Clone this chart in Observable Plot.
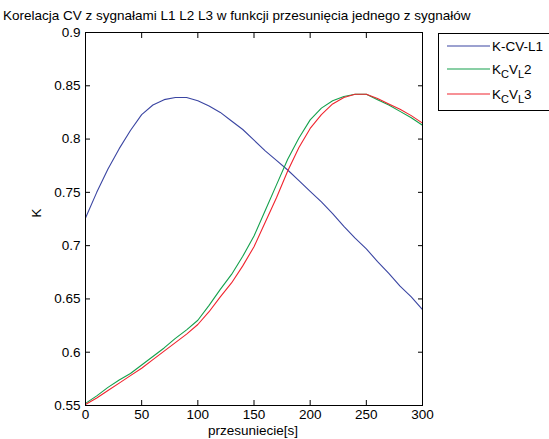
<!DOCTYPE html>
<html>
<head>
<meta charset="utf-8">
<script src="https://cdn.jsdelivr.net/npm/d3@7"></script>
<script src="https://cdn.jsdelivr.net/npm/@observablehq/plot@0.6"></script>
<style>
  html, body { margin: 0; padding: 0; background: #fff; }
  svg { display: block; }
</style>
</head>
<body>
<div id="chart"></div>
<script>
const shifts = [0,10,20,30,40,50,60,70,80,90,100,110,120,130,140,150,160,170,180,190,200,210,220,230,240,250,260,270,280,290,300];
const kCvL1 = [0.726,0.750,0.772,0.791,0.808,0.823,0.832,0.837,0.839,0.839,0.836,0.831,0.825,0.817,0.809,0.799,0.789,0.780,0.771,0.761,0.751,0.741,0.730,0.718,0.707,0.697,0.685,0.674,0.662,0.652,0.640];
const kCvL2 = [0.552,0.559,0.567,0.574,0.580,0.588,0.596,0.604,0.613,0.621,0.630,0.644,0.659,0.673,0.690,0.709,0.733,0.757,0.781,0.801,0.818,0.829,0.836,0.840,0.842,0.842,0.837,0.832,0.826,0.820,0.813];
const kCvL3 = [0.551,0.557,0.564,0.571,0.578,0.585,0.593,0.601,0.609,0.617,0.626,0.638,0.652,0.665,0.681,0.699,0.722,0.745,0.770,0.792,0.810,0.823,0.833,0.839,0.842,0.842,0.838,0.833,0.828,0.822,0.815];
const seriesNames = ["K-CV-L1", "K_CV_L2", "K_CV_L3"];
const seriesColors = ["#3a45a2", "#14a04c", "#f0242e"];
const xTicks = [0,50,100,150,200,250,300];
const yTicks = [0.55,0.6,0.65,0.7,0.75,0.8,0.85,0.9];
const title = "Korelacja CV z sygnałami L1 L2 L3 w funkcji przesunięcia jednego z sygnałów";
const xLabel = "przesuniecie[s]";
const yLabel = "K";

const allSeries = [kCvL1, kCvL2, kCvL3];
const rows = [];
allSeries.forEach((vals, i) => vals.forEach((v, j) => rows.push({s: seriesNames[i], x: shifts[j], k: v})));

const W = 549, H = 439;
const font = "'Liberation Sans', Arial, sans-serif";
const fs = 13.5;

const plot = Plot.plot({
  width: W, height: H,
  marginLeft: 85, marginRight: 127, marginTop: 32, marginBottom: 34,
  style: {fontFamily: font, fontSize: fs + "px", color: "#000", background: "#fff"},
  x: {domain: [0, 300]},
  y: {domain: [0.55, 0.9]},
  color: {domain: seriesNames, range: seriesColors},
  marks: [
    Plot.line(rows, {x: "x", y: "k", z: "s", stroke: "s", strokeWidth: 1.1}),
    Plot.frame({stroke: "#000", strokeWidth: 1}),
    Plot.axisX({ticks: xTicks, tickSize: -5, tickPadding: 9, tickFormat: d => String(d), label: null, fontSize: fs}),
    Plot.axisX({anchor: "top", ticks: xTicks, tickSize: -5, tickFormat: () => "", label: null}),
    Plot.axisY({ticks: yTicks, tickSize: -5, tickPadding: 10, tickFormat: d => String(d), label: null, fontSize: fs}),
    Plot.axisY({anchor: "right", ticks: yTicks, tickSize: -5, tickFormat: () => "", label: null})
  ]
});

document.getElementById("chart").appendChild(plot);

const svg = d3.select(plot);
svg.append("text").attr("x", 3).attr("y", 20).attr("text-anchor", "start")
  .attr("font-family", font).attr("font-size", fs).attr("fill", "#000").text(title);
svg.append("text").attr("x", 253).attr("y", 435).attr("text-anchor", "middle")
  .attr("font-family", font).attr("font-size", fs).attr("fill", "#000").text(xLabel);
svg.append("text").attr("transform", "translate(41,213) rotate(-90)").attr("text-anchor", "middle")
  .attr("font-family", font).attr("font-size", fs).attr("fill", "#000").text(yLabel);

// legend
const lg = svg.append("g");
lg.append("rect").attr("x", 438.5).attr("y", 33.5).attr("width", 120).attr("height", 77)
  .attr("fill", "#fff").attr("stroke", "#000");
const rowsY = [46, 69, 94];
seriesNames.forEach((name, i) => {
  lg.append("line").attr("x1", 447).attr("x2", 490).attr("y1", rowsY[i]).attr("y2", rowsY[i])
    .attr("stroke", seriesColors[i]).attr("stroke-width", 1.1);
  const t = lg.append("text").attr("x", 492).attr("y", rowsY[i] + 5).attr("text-anchor", "start")
    .attr("font-family", font).attr("font-size", fs).attr("fill", "#000");
  if (i === 0) {
    t.text(name);
  } else {
    t.append("tspan").text("K");
    t.append("tspan").attr("dy", 4).attr("font-size", 11).text("C");
    t.append("tspan").attr("dy", -4).text("V");
    t.append("tspan").attr("dy", 4).attr("font-size", 11).text("L");
    t.append("tspan").attr("dy", -4).text(String(i + 1));
  }
});
</script>
</body>
</html>
